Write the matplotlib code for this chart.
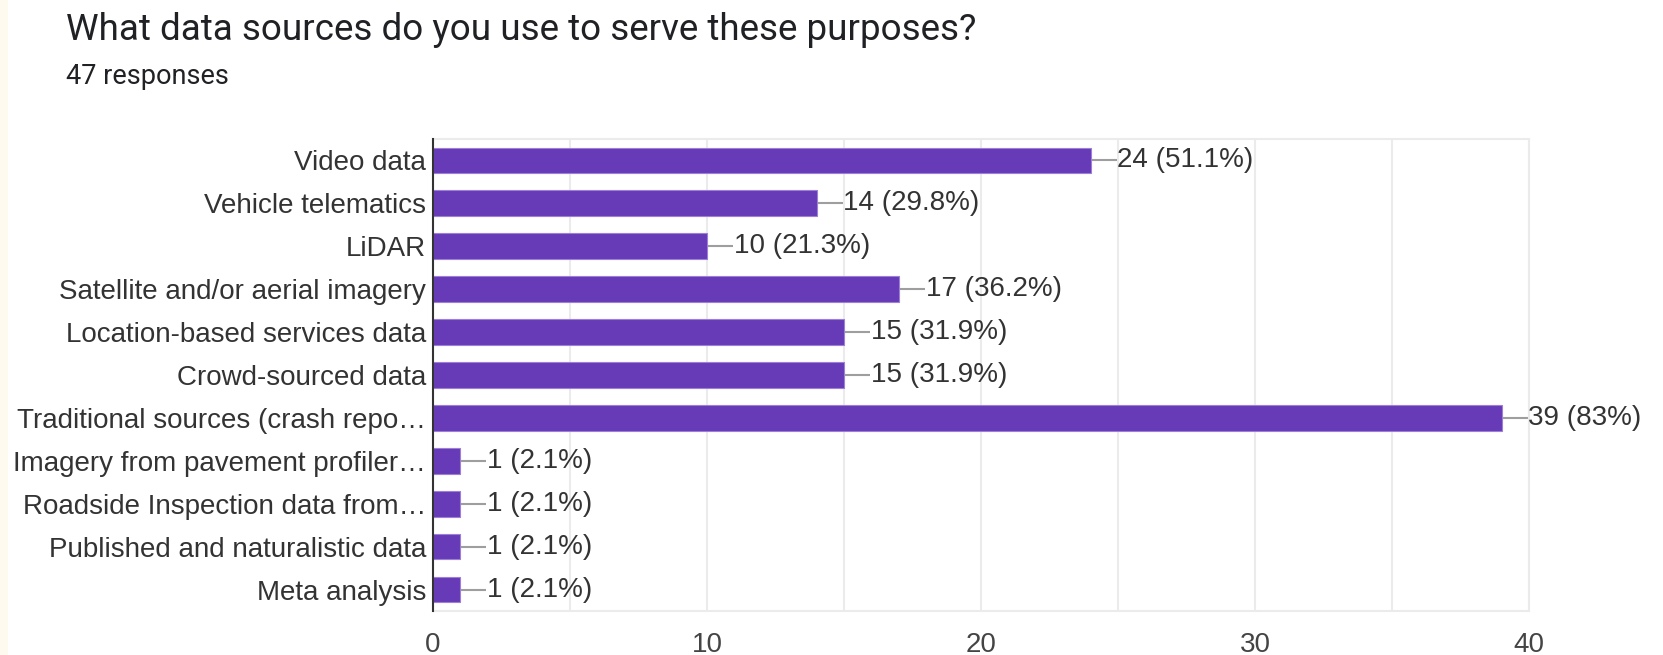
import matplotlib
matplotlib.use("Agg")
import matplotlib.pyplot as plt
from matplotlib.patches import Rectangle

# survey data
categories = [
    "Video data",
    "Vehicle telematics",
    "LiDAR",
    "Satellite and/or aerial imagery",
    "Location-based services data",
    "Crowd-sourced data",
    "Traditional sources (crash repo\u2026",
    "Imagery from pavement profiler\u2026",
    "Roadside Inspection data from\u2026",
    "Published and naturalistic data",
    "Meta analysis",
]
counts = [24, 14, 10, 17, 15, 15, 39, 1, 1, 1, 1]
percents = ["51.1%", "29.8%", "21.3%", "36.2%", "31.9%", "31.9%", "83%",
            "2.1%", "2.1%", "2.1%", "2.1%"]
xticks = [0, 10, 20, 30, 40]

bar_color = "#673AB7"
txt_color = "#333333"

fig = plt.figure(figsize=(16.63, 6.55), dpi=100)
fig.patches.append(Rectangle((0, 0), 8 / 1663, 1, transform=fig.transFigure,
                             facecolor="#FFFAF0", edgecolor="none", zorder=0))

ax = fig.add_axes([0.2604, 0.0672, 0.9194 - 0.2604, 0.7878 - 0.0672])

ypos = list(range(len(categories)))
ax.barh(ypos, counts, height=0.6, color=bar_color, edgecolor="#9C7FD6",
        linewidth=0.8, zorder=3)

for y, v, p in zip(ypos, counts, percents):
    ax.plot([v, v + 0.95], [y, y], color="#9E9E9E", lw=1.5, zorder=2,
            clip_on=False, solid_capstyle="butt")
    ax.text(v + 0.98, y, f"{v} ({p})", va="center", ha="left",
            fontsize=20, color=txt_color, family="Liberation Sans",
            clip_on=False)

ax.set_xlim(0, 40)
ax.set_ylim(len(categories) - 0.5, -0.5)
ax.set_yticks(ypos)
ax.set_yticklabels(categories, fontsize=20, color=txt_color,
                   family="Liberation Sans")
ax.set_xticks(xticks)
ax.set_xticklabels([str(t) for t in xticks], fontsize=20, color="#444444",
                   family="Liberation Sans")
ax.set_xticks([5, 15, 25, 35], minor=True)
ax.tick_params(axis="both", which="both", length=0)
ax.tick_params(axis="y", pad=5)
ax.tick_params(axis="x", pad=15)

ax.grid(axis="x", which="both", color="#EBEBEB", lw=1.5, zorder=0)
ax.set_axisbelow(True)
for side in ["top", "right", "bottom"]:
    ax.spines[side].set_color("#EBEBEB")
    ax.spines[side].set_linewidth(1.5)
ax.spines["left"].set_color("#333333")
ax.spines["left"].set_linewidth(1.5)
ax.spines["left"].set_zorder(4)

fig.text(66 / 1663, 1 - 40 / 655, "What data sources do you use to serve these purposes?",
         fontsize=26.5, color="#202124", family="Roboto", va="baseline")
fig.text(66 / 1663, 1 - 84 / 655, "47 responses", fontsize=19.5,
         color="#202124", family="Roboto", va="baseline")

fig.savefig("out.png", dpi=100)
